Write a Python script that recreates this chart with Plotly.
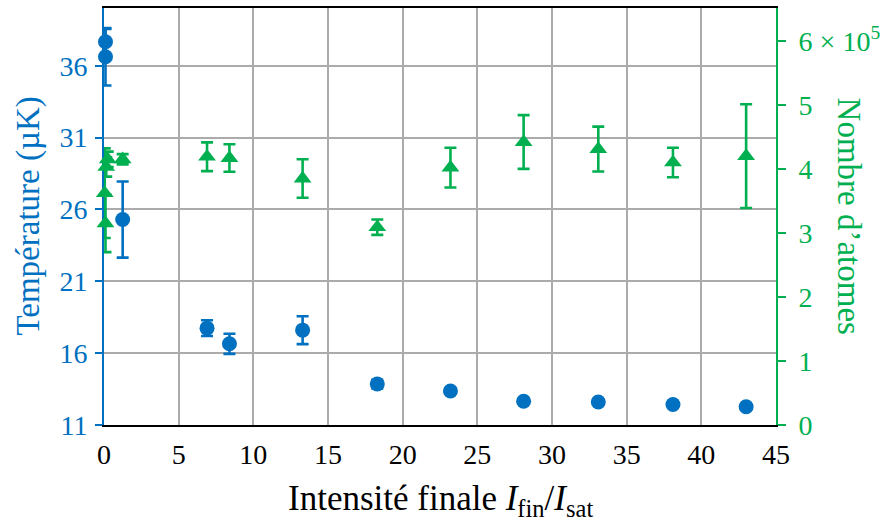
import plotly.graph_objects as go

# ---- data ----
x_temp = [0.1, 0.1, 1.25, 6.9, 8.4, 13.3, 18.3, 23.2, 28.1, 33.1, 38.1, 43.0]
temp_uK = [37.67, 36.63, 25.3, 17.74, 16.65, 17.6, 13.85, 13.37, 12.65, 12.6, 12.43, 12.27]
temp_err = [0.9, 2.0, 2.65, 0.55, 0.7, 0.97, 0.3, 0.2, 0.15, 0.15, 0.15, 0.15]

x_atoms = [0.25, 0.15, 0.05, 0.1, 1.25, 6.9, 8.4, 13.3, 18.3, 23.2, 28.1, 33.1, 38.1, 43.0]
atoms = [4.15e5, 4.03e5, 3.62e5, 3.15e5, 4.15e5, 4.19e5, 4.17e5, 3.85e5, 3.09e5,
         4.02e5, 4.42e5, 4.31e5, 4.10e5, 4.20e5]
atoms_err = [0.12e5, 0.15e5, 0.7e5, 0.45e5, 0.08e5, 0.225e5, 0.215e5, 0.3e5, 0.12e5,
             0.31e5, 0.42e5, 0.35e5, 0.23e5, 0.81e5]

x_ticks = [0, 5, 10, 15, 20, 25, 30, 35, 40, 45]
temp_ticks = [11, 16, 21, 26, 31, 36]
atom_ticks = [0, 1e5, 2e5, 3e5, 4e5, 5e5, 6e5]
atom_ticktext = ["0", "1", "2", "3", "4", "5", "6 × 10<sup>5</sup>"]

BLUE = "#0070C0"
GREEN = "#00B050"
GRID = "#ababab"
FONT = "Liberation Serif, DejaVu Serif, serif"
TICK_SIZE = 28
TITLE_SIZE = 33

fig = go.Figure()
fig.add_trace(go.Scatter(
    x=x_temp, y=temp_uK, mode="markers", yaxis="y", cliponaxis=False,
    marker=dict(symbol="circle", size=15, color=BLUE),
    error_y=dict(type="data", array=temp_err, color=BLUE, thickness=2.6, width=6),
    showlegend=False,
))
fig.add_trace(go.Scatter(
    x=x_atoms, y=atoms, mode="markers", yaxis="y2", cliponaxis=False,
    marker=dict(symbol="triangle-up", size=15.5, color=GREEN),
    error_y=dict(type="data", array=atoms_err, color=GREEN, thickness=2.6, width=6),
    showlegend=False,
))

fig.update_layout(
    width=893, height=525,
    margin=dict(l=104, r=116.5, t=6, b=100),
    paper_bgcolor="white", plot_bgcolor="white",
    font=dict(family=FONT, size=TICK_SIZE, color="black"),
    xaxis=dict(
        range=[0, 45], tickvals=x_ticks, showgrid=True, gridcolor=GRID, gridwidth=1.6,
        zeroline=False, showline=True, linecolor="black", linewidth=2, mirror=True,
        ticks="", ticklabelstandoff=3,
        tickfont=dict(family=FONT, size=TICK_SIZE, color="black"),
    ),
    yaxis=dict(
        range=[11, 40.02], tickvals=temp_ticks, showgrid=True, gridcolor=GRID, gridwidth=1.6,
        zeroline=False, showline=True, linecolor=BLUE, linewidth=2,
        ticks="outside", ticklen=7, tickwidth=2, tickcolor=BLUE,
        tickfont=dict(family=FONT, size=TICK_SIZE, color=BLUE), ticklabelstandoff=2,
        layer="below traces",
    ),
    yaxis2=dict(
        range=[0, 6.513e5], tickvals=atom_ticks, ticktext=atom_ticktext,
        overlaying="y", side="right", showgrid=False, zeroline=False,
        showline=True, linecolor=GREEN, linewidth=2,
        ticks="outside", ticklen=8, tickwidth=2, tickcolor=GREEN,
        tickfont=dict(family=FONT, size=TICK_SIZE, color=GREEN), ticklabelstandoff=7,
    ),
    annotations=[
        dict(text="Température (µK)", xref="paper", yref="paper", x=-0.113, y=0.5,
             xanchor="center", yanchor="middle", textangle=-90, showarrow=False,
             font=dict(size=TITLE_SIZE, color=BLUE, family=FONT)),
        dict(text="Nombre d’atomes", xref="paper", yref="paper", x=1.110, y=0.5,
             xanchor="center", yanchor="middle", textangle=90, showarrow=False,
             font=dict(size=TITLE_SIZE, color=GREEN, family=FONT)),
        dict(text="Intensité finale <i>I</i><sub>fin</sub>/<i>I</i><sub>sat</sub>",
             xref="paper", yref="paper", x=0.5, y=-0.182,
             xanchor="center", yanchor="middle", showarrow=False,
             font=dict(size=35, color="black", family=FONT)),
    ],
)

fig.write_html("out.html", config={"displayModeBar": False},
               post_script="document.body.style.margin='0';")
